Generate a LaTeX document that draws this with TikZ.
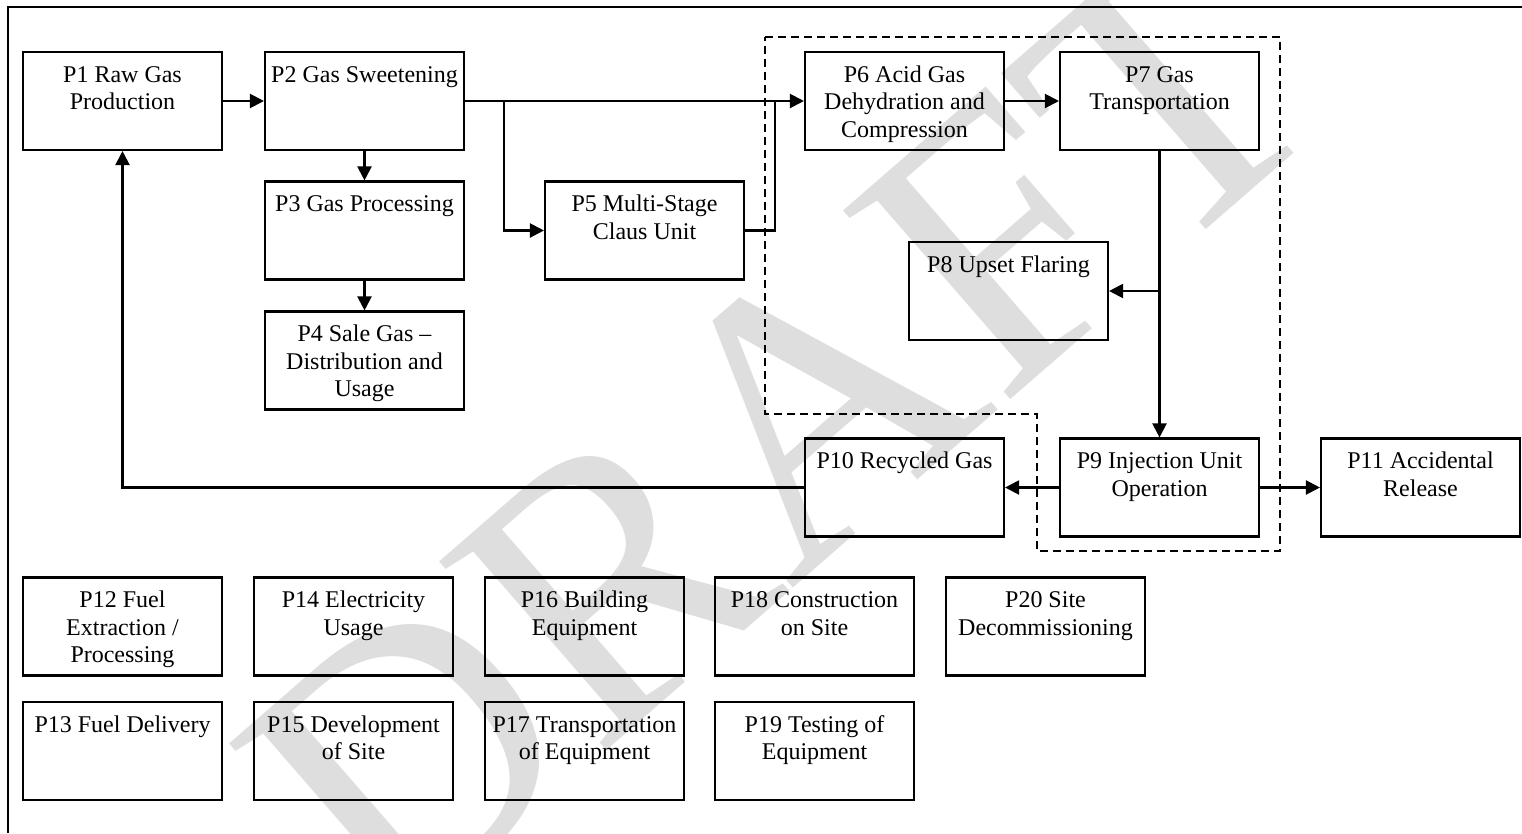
\documentclass[tikz,border=0pt]{standalone}
\usepackage{fontspec}
\setmainfont{Liberation Serif}
\usetikzlibrary{arrows.meta}
\tikzset{
  box/.style={draw, line width=2.1pt, minimum width=199pt, minimum height=98pt, inner sep=0pt},
  lbl/.style={anchor=north, inner sep=0pt, align=center, yshift=-11.7pt, font=\fontsize{24}{27.6}\selectfont},
  conn/.style={line width=2.1pt},
  arr/.style={conn, -{Triangle[length=14pt,width=14pt]}},
  bound/.style={line width=2pt, dash pattern=on 8pt off 5pt},
  frame/.style={line width=2.6pt},
  wmark/.style={rotate=41, text=black!13, inner sep=0pt, font=\fontsize{385}{385}\selectfont}
}
\newcommand{\bx}[4]{%
  \node[box] (#1) at (#2,#3) {};
  \node[lbl] (#1t) at (#1.north) {\strut #4};
}
\begin{document}
\begin{tikzpicture}[x=1pt,y=-1pt]
\useasboundingbox (0,0) rectangle (1522,833);
\fill[white] (0,0) rectangle (1522,833);
% watermark
\node[wmark] (wm) at (780,432) {DRAFT};
% frame
\draw[frame] (8,833) -- (8,7) -- (1522,7);
% boxes
\bx{p1}{122.5}{101}{P1 Raw Gas\\Production}
\bx{p2}{364.5}{101}{P2 Gas Sweetening}
\bx{p3}{364.5}{230.5}{P3 Gas Processing}
\bx{p4}{364.5}{360.5}{P4 Sale Gas --\\Distribution and\\Usage}
\bx{p5}{644.5}{230.5}{P5 Multi-Stage\\Claus Unit}
\bx{p6}{904.5}{101}{P6 Acid Gas\\Dehydration and\\Compression}
\bx{p7}{1159.5}{101}{P7 Gas\\Transportation}
\bx{p8}{1008.5}{291}{P8 Upset Flaring}
\bx{p9}{1159.5}{487.5}{P9 Injection Unit\\Operation}
\bx{p10}{904.5}{487.5}{P10 Recycled Gas}
\bx{p11}{1420.5}{487.5}{P11 Accidental\\Release}
\bx{p12}{122.5}{626.5}{P12 Fuel\\Extraction /\\Processing}
\bx{p13}{122.5}{751}{P13 Fuel Delivery}
\bx{p14}{353.5}{626.5}{P14 Electricity\\Usage}
\bx{p15}{353.5}{751}{P15 Development\\of Site}
\bx{p16}{584.5}{626.5}{P16 Building\\Equipment}
\bx{p17}{584.5}{751}{P17 Transportation\\of Equipment}
\bx{p18}{814.5}{626.5}{P18 Construction\\on Site}
\bx{p19}{814.5}{751}{P19 Testing of\\Equipment}
\bx{p20}{1045.5}{626.5}{P20 Site\\Decommissioning}
% dashed boundary
\draw[bound] (765,37) -- (1280,37) -- (1280,551) -- (1037,551) -- (1037,414) -- (765,414) -- cycle;
% connectors
\coordinate (b1) at (504,101);
\coordinate (j1) at (775,101);
\coordinate (b2) at (1159.5,291);
\draw[arr] (p1.east) -- (p2.west);
\draw[arr] (p2.south) -- (p3.north);
\draw[arr] (p3.south) -- (p4.north);
\draw[arr] (p2.east) -- (p6.west);
\draw[arr] (b1) |- (p5.west);
\draw[conn] (p5.east) -| (j1);
\draw[arr] (p6.east) -- (p7.west);
\draw[arr] (p7.south) -- (p9.north);
\draw[arr] (b2) -- (p8.east);
\draw[arr] (p9.west) -- (p10.east);
\draw[arr] (p9.east) -- (p11.west);
\draw[arr] (p10.west) -| (p1.south);
\end{tikzpicture}
\end{document}
